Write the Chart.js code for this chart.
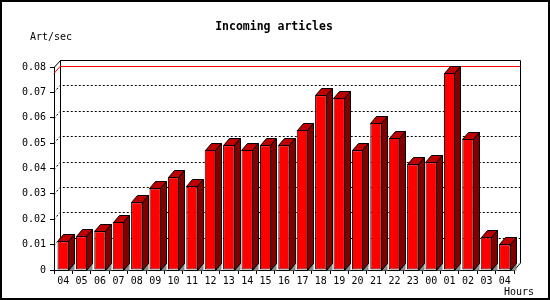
<!DOCTYPE html>
<html><head><meta charset="utf-8">
<script src="https://cdn.jsdelivr.net/npm/chart.js@4.4.1/dist/chart.umd.min.js"></script>
<style>html,body{margin:0;padding:0;background:#fff}#w{width:550px;height:300px}</style>
</head><body><div id="w"><canvas id="c" width="550" height="300"></canvas></div>
<script>
const hours = ['04','05','06','07','08','09','10','11','12','13','14','15','16','17','18','19','20','21','22','23','00','01','02','03','04'];
const artPerSec = [0.0113,0.0133,0.0153,0.0189,0.0267,0.0322,0.0366,0.0330,0.0474,0.0492,0.0474,0.0492,0.0492,0.0552,0.0689,0.0678,0.0472,0.0579,0.0520,0.0417,0.0425,0.0776,0.0516,0.0129,0.0101];
const yTickValues = [0,0.01,0.02,0.03,0.04,0.05,0.06,0.07,0.08];
const titleText = 'Incoming articles';
const yUnitText = 'Art/sec';
const xUnitText = 'Hours';

const DX = 6, DY = 7;
const MONO = '"DejaVu Sans Mono", "Liberation Mono", monospace';
Chart.defaults.color = '#000';

const threeD = {
  id: 'threeD',
  beforeDraw(chart) {
    const ctx = chart.ctx;
    ctx.save();
    ctx.fillStyle = '#fff';
    ctx.fillRect(0, 0, chart.width, chart.height);
    ctx.restore();
  },
  beforeDatasetsDraw(chart) {
    const {ctx, chartArea: a, scales: {y}} = chart;
    const L = a.left, R = a.right, T = a.top, B = a.bottom;
    ctx.save();
    ctx.lineWidth = 1;
    ctx.strokeStyle = '#000';
    // dotted grid on side and back walls
    ctx.setLineDash([2, 2]);
    yTickValues.slice(1, -1).forEach(v => {
      const py = Math.round(y.getPixelForValue(v)) + 0.5;
      ctx.beginPath();
      ctx.moveTo(L, py);
      ctx.lineTo(L + DX, py - DY);
      ctx.lineTo(R + DX, py - DY);
      ctx.stroke();
    });
    ctx.setLineDash([]);
    // walls
    ctx.beginPath();
    ctx.moveTo(L + 0.5, T);
    ctx.lineTo(L + DX + 0.5, T - DY + 0.5);
    ctx.lineTo(R + DX + 0.5, T - DY + 0.5);
    ctx.lineTo(R + DX + 0.5, B - DY);
    ctx.lineTo(R, B + 0.5);
    ctx.moveTo(L + DX + 0.5, T - DY);
    ctx.lineTo(L + DX + 0.5, B - DY);
    ctx.stroke();
    // maximum line
    const maxV = Math.max(...artPerSec);
    const my = Math.round(y.getPixelForValue(maxV)) + 0.5;
    ctx.strokeStyle = '#ff0000';
    ctx.beginPath();
    ctx.moveTo(L, my);
    ctx.lineTo(L + DX, my - DY);
    ctx.lineTo(R + DX, my - DY);
    ctx.stroke();
    ctx.restore();
  },
  afterDatasetsDraw(chart) {
    const ctx = chart.ctx;
    const meta = chart.getDatasetMeta(0);
    ctx.save();
    ctx.lineWidth = 1;
    ctx.strokeStyle = '#000';
    ctx.lineJoin = 'miter';
    meta.data.forEach(el => {
      const p = el.getProps(['x', 'y', 'width', 'base'], true);
      const xl = Math.round(p.x - p.width / 2) + 0.5;
      const xr = Math.round(p.x + p.width / 2) - 0.5;
      const yt = Math.round(p.y) + 0.5;
      const yb = Math.round(p.base) + 0.5;
      // top face
      ctx.beginPath();
      ctx.moveTo(xl, yt);
      ctx.lineTo(xl + DX, yt - DY);
      ctx.lineTo(xr + DX, yt - DY);
      ctx.lineTo(xr, yt);
      ctx.closePath();
      ctx.fillStyle = '#c00000';
      ctx.fill();
      ctx.stroke();
      // side face
      ctx.beginPath();
      ctx.moveTo(xr, yt);
      ctx.lineTo(xr + DX, yt - DY);
      ctx.lineTo(xr + DX, yb - DY);
      ctx.lineTo(xr, yb);
      ctx.closePath();
      ctx.fillStyle = '#800000';
      ctx.fill();
      ctx.stroke();
      // floor shadow
      ctx.beginPath();
      ctx.moveTo(xr, yb);
      ctx.lineTo(xr + DX, yb - DY);
      ctx.lineTo(xr + DX, yb);
      ctx.closePath();
      ctx.fillStyle = '#8c8c8c';
      ctx.fill();
      ctx.beginPath();
      ctx.moveTo(xr, yb);
      ctx.lineTo(xr + DX, yb - DY);
      ctx.stroke();
    });
    ctx.restore();
  },
  afterDraw(chart) {
    const ctx = chart.ctx;
    ctx.save();
    ctx.fillStyle = '#000';
    ctx.textBaseline = 'middle';
    ctx.font = 'bold 11.5px ' + MONO;
    ctx.textAlign = 'center';
    ctx.fillText(titleText, 274, 27);
    ctx.font = '10px ' + MONO;
    ctx.textAlign = 'left';
    ctx.fillText(yUnitText, 30, 37);
    ctx.fillText(xUnitText, 504, 292);
    ctx.strokeStyle = '#000';
    ctx.lineWidth = 2;
    ctx.strokeRect(1, 1, chart.width - 2, chart.height - 2);
    ctx.restore();
  }
};

new Chart(document.getElementById('c'), {
  type: 'bar',
  data: {
    labels: hours,
    datasets: [{
      data: artPerSec,
      backgroundColor: '#ff0000',
      borderColor: '#000',
      borderWidth: 1,
      borderSkipped: false,
      categoryPercentage: 1,
      barPercentage: 0.62
    }]
  },
  options: {
    responsive: false,
    animation: false,
    devicePixelRatio: 1,
    layout: {padding: {top: 67, right: 36, bottom: 0, left: 0}},
    plugins: {legend: {display: false}, tooltip: {enabled: false}, title: {display: false}},
    scales: {
      x: {
        afterFit(s) { s.height = 30; },
        grid: {display: true, drawOnChartArea: false, drawTicks: true, tickLength: 4, color: '#000', offset: true},
        border: {display: true, color: '#000', width: 1},
        ticks: {font: {family: MONO, size: 10}, color: '#000', autoSkip: false, maxRotation: 0, padding: 1}
      },
      y: {
        min: 0, max: 0.08,
        afterFit(s) { s.width = 54; },
        afterBuildTicks(s) { s.ticks = yTickValues.map(v => ({value: v})); },
        grid: {display: true, drawOnChartArea: false, drawTicks: true, tickLength: 4, color: '#000'},
        border: {display: true, color: '#000', width: 1},
        ticks: {font: {family: MONO, size: 10}, color: '#000', padding: 4, stepSize: 0.01}
      }
    }
  },
  plugins: [threeD]
});
</script></body></html>
